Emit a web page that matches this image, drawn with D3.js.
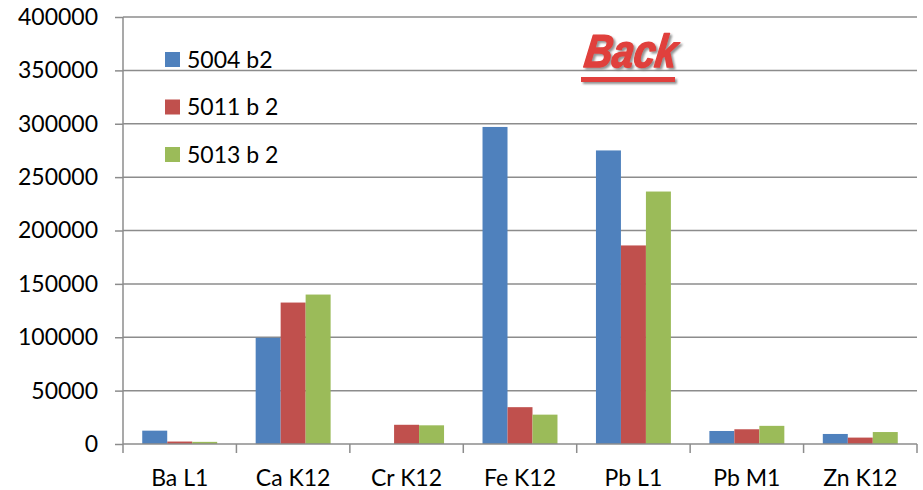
<!DOCTYPE html>
<html>
<head>
<meta charset="utf-8">
<script src="https://cdn.jsdelivr.net/npm/d3@7"></script>
<style>
  html, body { margin: 0; padding: 0; background: #fff; }
  svg { display: block; }
  text { font-family: Lato, "Open Sans", "Liberation Sans", sans-serif; }
</style>
</head>
<body>
<svg id="chart" width="923" height="490"></svg>
<script>
const categories = ["Ba L1", "Ca K12", "Cr K12", "Fe K12", "Pb L1", "Pb M1", "Zn K12"];
const seriesNames = ["5004 b2", "5011 b 2", "5013 b 2"];
const s5004 = [12500, 99500, 0, 297000, 275000, 12200, 9400];
const s5011 = [2300, 132500, 18000, 34500, 186000, 13800, 6000];
const s5013 = [2000, 140000, 17500, 27500, 236500, 17000, 11200];
const yTicks = [0, 50000, 100000, 150000, 200000, 250000, 300000, 350000, 400000];
const colors = ["#4F81BD", "#C0504D", "#9BBB59"];

const series = [s5004, s5011, s5013];
const svg = d3.select("#chart");
const plotLeft = 123, plotRight = 917, plotTop = 17, plotBottom = 444;
const fontSize = "23px";
const axisGrey = "#8c8c8c";

const x = d3.scaleBand().domain(categories).range([plotLeft, plotRight]).paddingInner(0).paddingOuter(0);
const x1 = d3.scaleBand().domain(d3.range(series.length)).range([0, x.bandwidth()]).paddingInner(0).paddingOuter(0.77);
const y = d3.scaleLinear().domain([0, 400000]).range([plotBottom, plotTop]);

// gridlines
svg.append("g").selectAll("line").data(yTicks.filter(d => d > 0)).join("line")
  .attr("x1", plotLeft).attr("x2", plotRight)
  .attr("y1", d => y(d)).attr("y2", d => y(d))
  .attr("stroke", axisGrey).attr("stroke-width", 1.5);

// bars
const groups = svg.append("g").selectAll("g").data(categories).join("g")
  .attr("transform", d => `translate(${x(d)},0)`);
groups.selectAll("rect")
  .data((c, i) => series.map((s, k) => ({ k, v: s[i] })))
  .join("rect")
  .attr("x", d => x1(d.k))
  .attr("width", x1.bandwidth())
  .attr("y", d => y(d.v))
  .attr("height", d => y(0) - y(d.v))
  .attr("fill", d => colors[d.k]);

// y axis
const yAxis = d3.axisLeft(y).tickValues(yTicks).tickSize(8).tickPadding(17).tickFormat(d3.format("d"));
const gy = svg.append("g").attr("transform", `translate(${plotLeft},0)`).call(yAxis);
gy.select(".domain").attr("stroke", axisGrey).attr("stroke-width", 1.5).attr("d", `M0,${plotTop}V${plotBottom}`);
gy.selectAll(".tick line").attr("stroke", axisGrey).attr("stroke-width", 1.5);
gy.selectAll(".tick text").style("font-size", fontSize).style("font-family", "Lato, 'Open Sans', sans-serif").style("fill", "#000");

// x axis
const gx = svg.append("g").attr("transform", `translate(0,${plotBottom})`);
gx.append("line").attr("x1", plotLeft).attr("x2", plotRight).attr("y1", 0).attr("y2", 0)
  .attr("stroke", axisGrey).attr("stroke-width", 1.5);
const bounds = categories.map(c => x(c)).concat([plotRight]);
gx.selectAll(".tk").data(bounds).join("line").attr("class", "tk")
  .attr("x1", d => d).attr("x2", d => d).attr("y1", 0).attr("y2", 9)
  .attr("stroke", axisGrey).attr("stroke-width", 1.5);
gx.selectAll(".lbl").data(categories).join("text").attr("class", "lbl")
  .attr("x", d => x(d) + x.bandwidth() / 2).attr("y", 42)
  .attr("text-anchor", "middle").style("font-size", fontSize).style("fill", "#000").text(d => d);

// legend
const legend = svg.append("g");
seriesNames.forEach((name, i) => {
  const ly = 59.5 + i * 47.5;
  legend.append("rect").attr("x", 165).attr("y", ly - 7.5).attr("width", 15).attr("height", 15).attr("fill", colors[i]);
  legend.append("text").attr("x", 187).attr("y", ly + 8).style("font-size", fontSize).style("fill", "#000").text(name);
});

// "Back" link with drop shadow
const defs = svg.append("defs");
const shadow = defs.append("filter").attr("id", "backShadow").attr("x", "-10%").attr("y", "-10%").attr("width", "130%").attr("height", "140%");
shadow.append("feDropShadow").attr("dx", 2).attr("dy", 2).attr("stdDeviation", 1)
  .attr("flood-color", "#777").attr("flood-opacity", 0.8);
const back = svg.append("g").attr("filter", "url(#backShadow)");
back.append("text").attr("x", 0).attr("y", 0)
  .attr("transform", "translate(583,67) skewX(-8)")
  .attr("textLength", 92).attr("lengthAdjust", "spacingAndGlyphs")
  .style("font-size", "46px").style("font-weight", "bold").style("font-style", "italic")
  .style("font-family", "'Liberation Sans', Arial, sans-serif")
  .style("fill", "#E0403C").style("stroke", "#E0403C").style("stroke-width", 1.6)
  .style("stroke-linejoin", "round").text("Back");
back.append("rect").attr("x", 581).attr("y", 77).attr("width", 94).attr("height", 5).attr("fill", "#E0403C");
</script>
</body>
</html>
